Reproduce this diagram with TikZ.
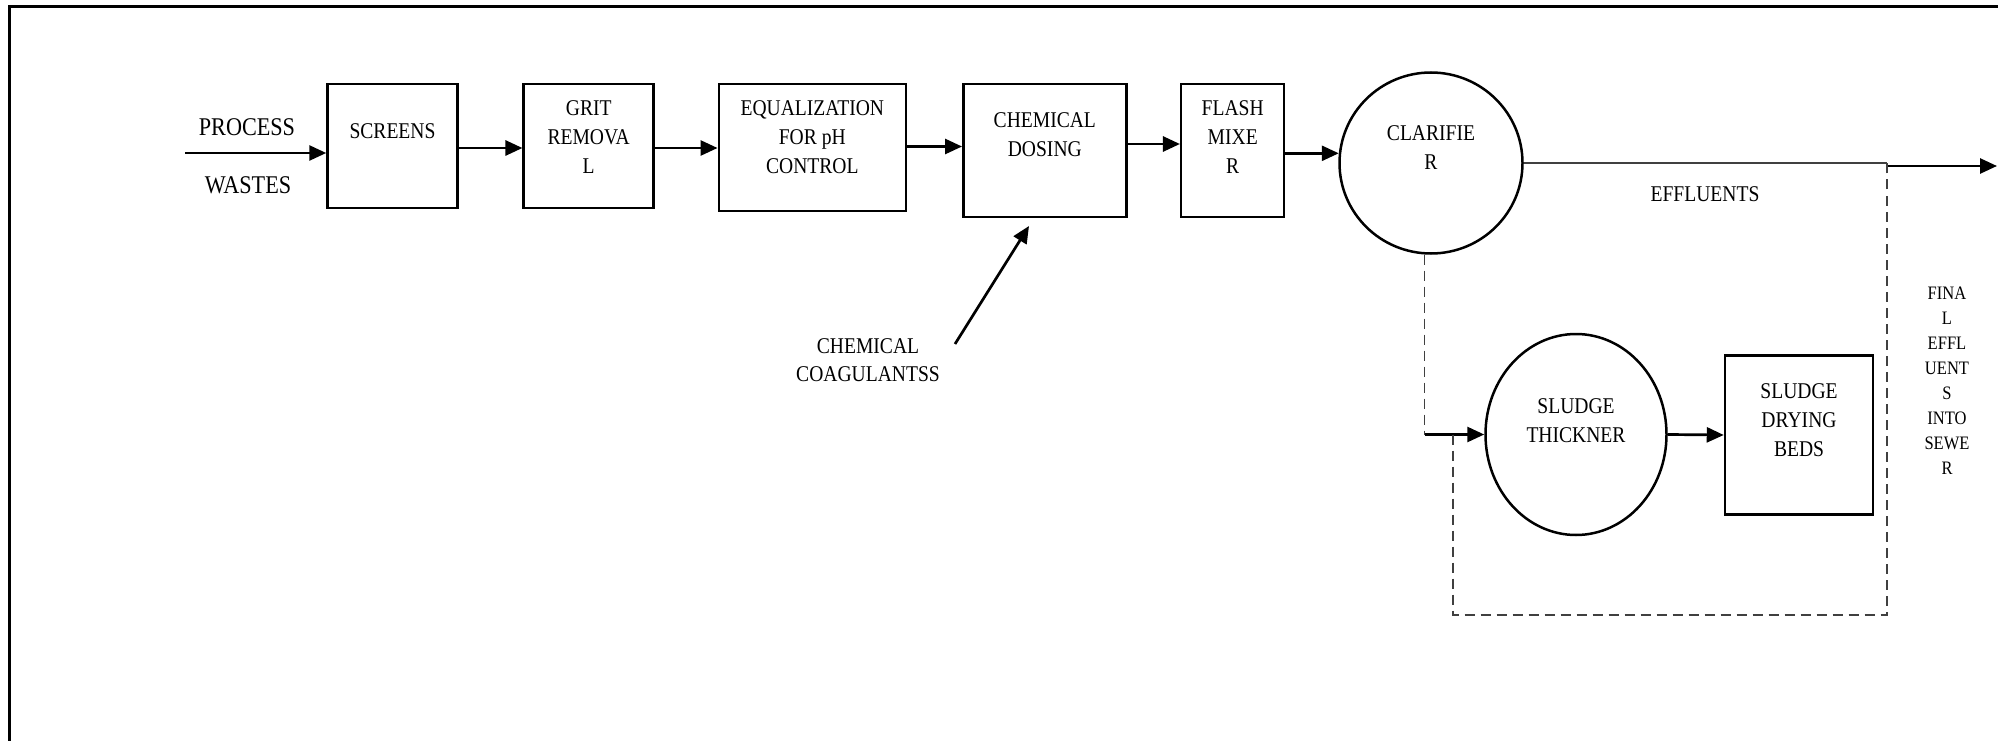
\documentclass[tikz,border=0pt]{standalone}
\usepackage{fontspec}
\setmainfont{Liberation Serif}[FakeStretch=0.87]
\usetikzlibrary{arrows.meta,shapes.geometric}

\tikzset{
  unit/.style={draw, line width=2.5pt, inner sep=0pt, fill=none},
  boxnode/.style={unit, rectangle},
  roundnode/.style={unit, ellipse},
  lbl/.style={inner sep=0pt, align=center, font=\fontsize{22.5}{29}\selectfont},
  biglbl/.style={inner sep=0pt, align=center, font=\fontsize{25.5}{29}\selectfont},
  smalllbl/.style={inner sep=0pt, align=center, font=\fontsize{19}{25}\selectfont},
  flow/.style={line width=2.7pt, -{Triangle[length=17pt,width=15pt]}},
  thinflow/.style={line width=1.6pt, black!75},
  dashflow/.style={line width=1.5pt, black!75, dash pattern=on 10pt off 6pt},
  frameline/.style={line width=3pt}
}

\begin{document}
\begin{tikzpicture}[x=1pt,y=-1pt]
\useasboundingbox (0,0) rectangle (1998,741);
\clip (0,0) rectangle (1998,741);

% outer frame (only top and left edges fall inside the page)
\draw[frameline] (9,760) -- (9,6.5) -- (2010,6.5);

% treatment units
\node[boxnode, minimum width=130pt, minimum height=124pt] (scr)  at (392.5,146) {};
\node[boxnode, minimum width=130pt, minimum height=124pt] (grit) at (588.7,146) {};
\node[boxnode, minimum width=187pt, minimum height=127pt] (eq)   at (812.3,147.7) {};
\node[boxnode, minimum width=163pt, minimum height=133pt] (dos)  at (1044.8,150.3) {};
\node[boxnode, minimum width=103pt, minimum height=133pt] (fm)   at (1232.7,150.3) {};
\node[roundnode, minimum width=183pt, minimum height=181pt] (clar) at (1431,163) {};
\node[roundnode, minimum width=181pt, minimum height=201pt] (thk)  at (1576,434.5) {};
\node[boxnode, minimum width=148pt, minimum height=159pt] (sdb)  at (1799,435) {};

% unit labels
\node[biglbl] (tproc)  at (247,127) {PROCESS};
\node[biglbl] (twaste) at (248,185) {WASTES};
\node[lbl] (tscr)   at (392.5,131) {SCREENS};
\node[lbl] (tgrit)  at (588.7,137) {GRIT\\REMOVA\\L};
\node[lbl] (teq)    at (812.3,137) {EQUALIZATION\\FOR pH\\CONTROL};
\node[lbl] (tdos)   at (1044.8,135) {CHEMICAL\\DOSING};
\node[lbl] (tfm)    at (1232.7,137) {FLASH\\MIXE\\R};
\node[lbl] (tclar)  at (1431,148) {CLARIFIE\\R};
\node[lbl] (teff)   at (1705,194) {EFFLUENTS};
\node[lbl] (tthk)   at (1576,421) {SLUDGE\\THICKNER};
\node[lbl] (tsdb)   at (1799,420.5) {SLUDGE\\DRYING\\BEDS};
\node[lbl, font=\fontsize{22.5}{28}\selectfont] (tcoag) at (868,360.6) {CHEMICAL\\COAGULANTSS};
\node[smalllbl] (tfinal) at (1947,381) {FINA\\L\\EFFL\\UENT\\S\\INTO\\SEWE\\R};

% helper points
\coordinate (in)    at (185,153);
\coordinate (y148)  at (0,148);
\coordinate (y146)  at (0,146.5);
\coordinate (y144)  at (0,144);
\coordinate (junc)  at (1887,163);
\coordinate (outA)  at (1887,166);
\coordinate (outB)  at (1997,166);
\coordinate (coagA) at (955,344);
\coordinate (coagB) at (1029,226);
\coordinate (bend)  at (clar.266 |- thk.west);
\coordinate (loopA) at (1453,434.5);
\coordinate (bot)   at (0,615);

% main flow line
\draw[flow] (in) -- (scr.west |- in);
\draw[flow] (scr.east |- y148) -- (grit.west |- y148);
\draw[flow] (grit.east |- y148) -- (eq.west |- y148);
\draw[flow] (eq.east |- y146) -- (dos.west |- y146);
\draw[flow] (dos.east |- y144) -- (fm.west |- y144);
\draw[flow] (fm.east |- clar.174) -- (clar.174);

% chemical feed
\draw[flow] (coagA) -- (coagB);

% clarified effluent to sewer
\draw[thinflow] (clar.east) -- (junc);
\draw[flow] (outA) -- (outB);

% sludge line
\draw[dashflow] (clar.266) -- (bend);
\draw[flow] (bend) -- (thk.west);
\draw[flow] (thk.east) -- (sdb.west);

% supernatant return
\draw[dashflow] (loopA) -- (loopA |- bot) -- (junc |- bot) -- (junc);
\end{tikzpicture}
\end{document}
